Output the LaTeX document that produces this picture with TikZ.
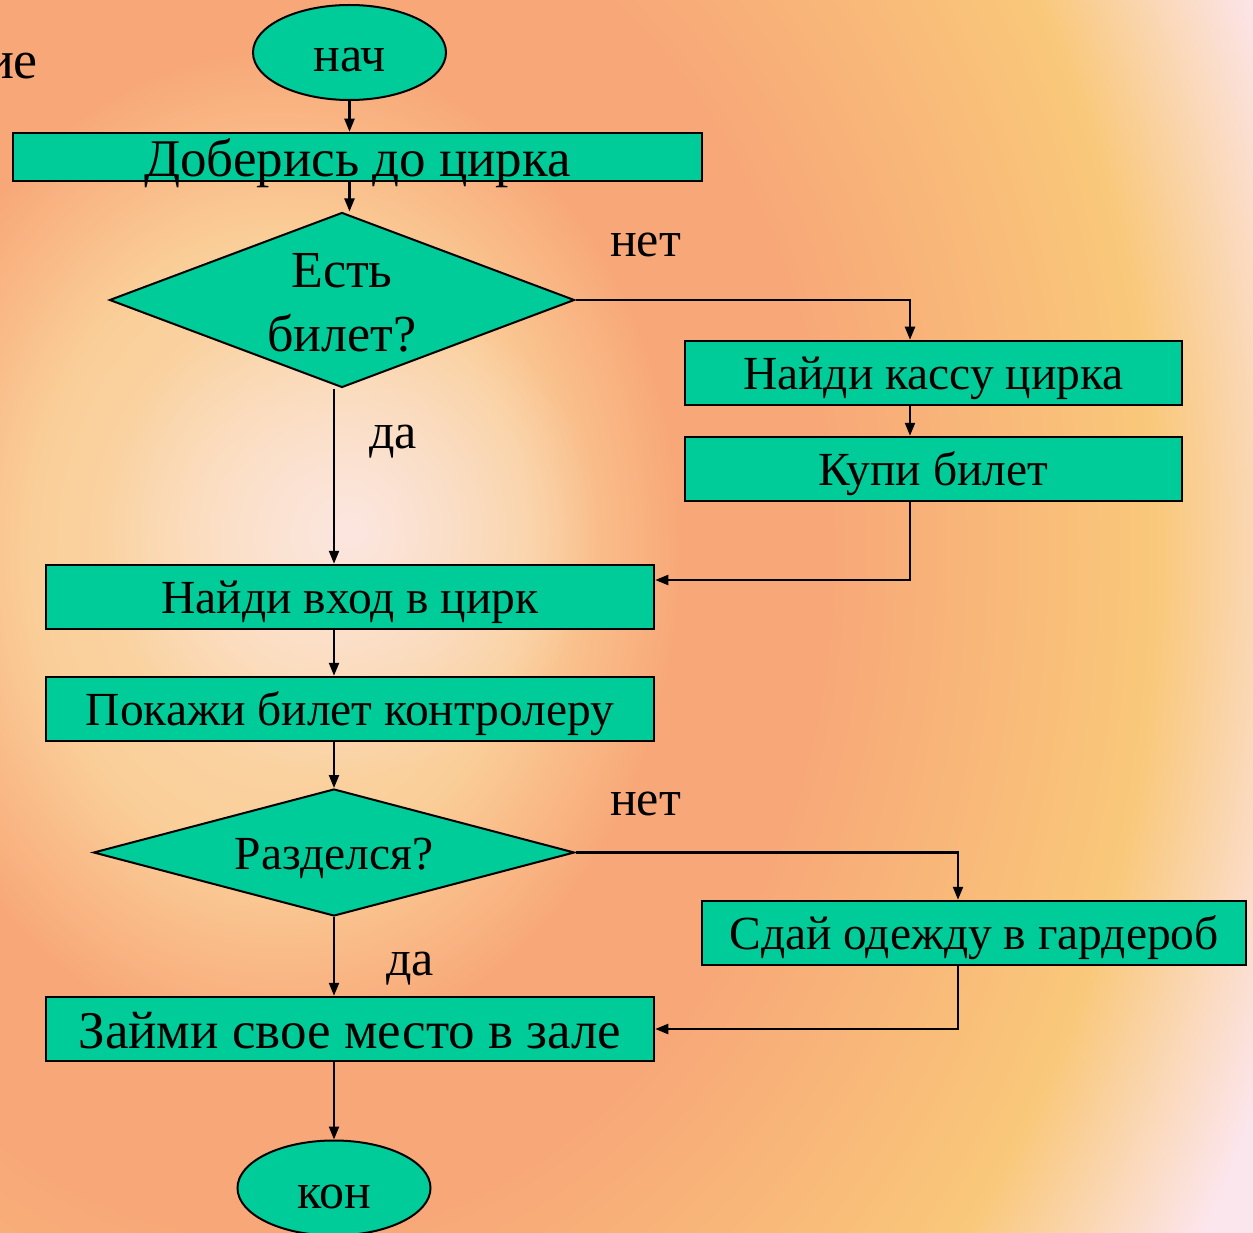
\documentclass[tikz,border=0pt]{standalone}
\usepackage{fontspec}
\setmainfont{Liberation Serif}
\usetikzlibrary{arrows.meta,fadings}
\usetikzlibrary{positioning,shapes.geometric}
\definecolor{boxgreen}{RGB}{0,204,153}
\definecolor{bgcentre}{RGB}{251,230,224}
\definecolor{bglight}{RGB}{251,220,180}
\definecolor{bgpeach}{RGB}{250,206,152}
\definecolor{bgsalmon}{RGB}{248,168,120}
\definecolor{bgyellow}{RGB}{249,200,122}
\definecolor{bgpink}{RGB}{252,230,238}
\pgfdeclareradialshading{circus}{\pgfpoint{0bp}{0bp}}{color(0bp)=(bglight); color(5bp)=(bgpeach); color(8bp)=(bgsalmon); color(11bp)=(bgsalmon); color(17.5bp)=(bgyellow); color(21.5bp)=(bgpink); color(50bp)=(bgpink)}
\tikzfading[name=softspot, inner color=transparent!0, outer color=transparent!100]

\begin{document}
\begin{tikzpicture}[%
        x=1pt, y=-1pt,
        every node/.style={inner sep=0pt},
        box/.style={rectangle, draw, fill=boxgreen, line width=2.5pt, minimum height=64pt,
          text height=33pt, text depth=0pt, font=\fontsize{47.5}{57}\selectfont},
        decision/.style={diamond, draw, fill=boxgreen, line width=2pt},
        terminal/.style={ellipse, draw, fill=boxgreen, line width=2pt, minimum width=193pt,
          minimum height=95pt, text depth=0pt, font=\fontsize{50}{60}\selectfont},
        answer/.style={anchor=base west, font=\fontsize{50}{60}\selectfont},
        line width=2.2pt,
        >={Triangle[length=13pt,width=10pt]}
      ]
      \clip (0,0) rectangle (1253,1233);
      \shade[shading=circus] (280,550) ellipse [x radius=1250pt, y radius=1560pt];
      \fill[bgcentre, path fading=softspot] (350,530) circle (250pt);

      \node [anchor=base east, font=\fontsize{54}{60}\selectfont] (cut) at (39,79) {ие};

      \node [terminal, text height=39pt] (start) at (349.5,52.5) {нач};
      \node [box, minimum width=689pt, minimum height=48pt, text height=40pt, font=\fontsize{53}{60}\selectfont] (reach) at (357.5,157) {Доберись до цирка};
      \node [decision, minimum width=465pt, minimum height=175pt, aspect=2.66, align=center,
        text height=104pt, text depth=0pt, font=\fontsize{52}{64}\selectfont] (ticket) at (342,300) {Есть\\билет?};
      \node [box, minimum width=497pt] (desk) at (933.5,373) {Найди кассу цирка};
      \node [box, minimum width=497pt] (buy) at (933.5,469) {Купи билет};
      \node [box, minimum width=608pt] (entry) at (350,597) {Найди вход в цирк};
      \node [box, minimum width=608pt] (show) at (350,709) {Покажи билет контролеру};
      \node [decision, minimum width=481pt, minimum height=127pt, aspect=3.79,
        text height=34pt, text depth=0pt, font=\fontsize{47.5}{57}\selectfont] (undress) at (334,852.5) {Разделся?};
      \node [box, minimum width=544pt] (wardrobe) at (974,933) {Сдай одежду в гардероб};
      \node [box, minimum width=608pt, text height=38pt, font=\fontsize{53}{60}\selectfont] (seat) at (350,1029) {Займи свое место в зале};
      \node [terminal, text height=40pt] (stop) at (334,1188) {кон};

      \node [answer] (no1) at (609,257) {нет};
      \node [answer] (yes1) at (368,448) {да};
      \node [answer] (no2) at (609,815) {нет};
      \node [answer] (yes2) at (385,975) {да};

      \path [draw] (start) edge[->] (reach.north -| start)
      (reach.south -| start) edge[->] (ticket.north -| start)
      ([xshift=-23.5pt]desk.south) edge[->] ([xshift=-23.5pt]buy.north)
      (ticket.south -| undress) edge[->] (entry.north -| undress)
      (entry.south -| undress) edge[->] (show.north -| undress)
      (show.south -| undress) edge[->] (undress)
      (undress) edge[->] (seat.north -| undress)
      (seat.south -| undress) edge[->] (stop);
      \draw[->] (ticket.east) -| ([xshift=-23.5pt]desk.north);
      \draw[->] ([xshift=-23.5pt]buy.south) |- ([yshift=17pt]entry.east);
      \draw[->] (undress.east) -| ([xshift=-16pt]wardrobe.north);
      \draw[->] ([xshift=-16pt]wardrobe.south) |- (seat.east);
    \end{tikzpicture}
\end{document}
